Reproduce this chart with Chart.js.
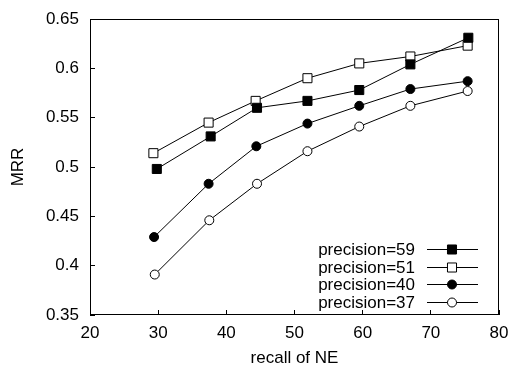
<!DOCTYPE html>
<html>
<head>
<meta charset="utf-8">
<script src="https://cdn.jsdelivr.net/npm/chart.js@4"></script>
<style>
  body { margin: 0; background: #fff; }
  canvas { display: block; }
</style>
</head>
<body>
<canvas id="mrrChart" width="510" height="367"></canvas>
<script>
// series data
const seriesLabels = ['precision=59', 'precision=51', 'precision=40', 'precision=37'];
const recall59 = [29.8, 37.7, 44.5, 51.9, 59.5, 67.0, 75.5];
const mrr59 = [0.498, 0.531, 0.560, 0.567, 0.578, 0.604, 0.631];
const recall51 = [29.3, 37.4, 44.3, 51.9, 59.5, 67.0, 75.4];
const mrr51 = [0.514, 0.545, 0.567, 0.590, 0.605, 0.612, 0.623];
const recall40 = [29.4, 37.4, 44.4, 51.9, 59.5, 67.0, 75.4];
const mrr40 = [0.429, 0.483, 0.521, 0.544, 0.562, 0.579, 0.587];
const recall37 = [29.5, 37.5, 44.5, 51.9, 59.5, 67.0, 75.4];
const mrr37 = [0.391, 0.446, 0.483, 0.516, 0.541, 0.562, 0.577];

const xTickLabels = ['20', '30', '40', '50', '60', '70', '80'];
const yTickLabels = ['0.35', '0.4', '0.45', '0.5', '0.55', '0.6', '0.65'];

const toPoints = (xs, ys) => xs.map((x, i) => ({ x: x, y: ys[i] }));

const FONT = { family: "'Liberation Sans', Arial, sans-serif", size: 17 };

function series(label, xs, ys, style, filled, radius) {
    return {
        label: label,
        data: toPoints(xs, ys),
        showLine: true,
        borderColor: '#000',
        borderWidth: 1,
        pointStyle: style,
        pointRadius: radius,
        pointBorderWidth: 1,
        pointBorderColor: '#000',
        pointBackgroundColor: filled ? '#000' : '#fff',
    };
}

// frame around the plot, gnuplot style
const frame = {
    id: 'frame',
    afterDraw(chart) {
        const { ctx, chartArea: a } = chart;
        ctx.save();
        ctx.strokeStyle = '#000';
        ctx.lineWidth = 1;
        ctx.strokeRect(a.left + 0.5, a.top + 0.5, a.right - a.left - 1, a.bottom - a.top - 1);
        ctx.restore();
    }
};

// key in the lower right corner: text, then a line with the marker on it
const key = {
    id: 'key',
    afterDraw(chart) {
        const { ctx, chartArea: a } = chart;
        ctx.save();
        ctx.font = FONT.size + 'px ' + FONT.family;
        ctx.textAlign = 'right';
        ctx.textBaseline = 'middle';
        chart.data.datasets.forEach((ds, i) => {
            const y = Math.round(a.bottom - 66 + i * 17.5) + 0.5;
            ctx.fillStyle = '#000';
            ctx.fillText(ds.label, a.right - 84, y + 1);
            ctx.strokeStyle = '#000';
            ctx.lineWidth = 1;
            ctx.beginPath();
            ctx.moveTo(a.right - 72, y);
            ctx.lineTo(a.right - 21, y);
            ctx.stroke();
            ctx.fillStyle = ds.pointBackgroundColor;
            Chart.helpers.drawPoint(ctx, {
                pointStyle: ds.pointStyle,
                radius: ds.pointRadius,
                borderWidth: 1,
                rotation: 0
            }, a.right - 47, y);
        });
        ctx.restore();
    }
};

new Chart(document.getElementById('mrrChart').getContext('2d'), {
    type: 'scatter',
    data: {
        datasets: [
            series(seriesLabels[0], recall59, mrr59, 'rect', true, 6.4),
            series(seriesLabels[1], recall51, mrr51, 'rect', false, 6.4),
            series(seriesLabels[2], recall40, mrr40, 'circle', true, 4.5),
            series(seriesLabels[3], recall37, mrr37, 'circle', false, 4.5),
        ],
    },
    options: {
        responsive: false,
        animation: false,
        layout: { padding: { left: 0, top: 19, right: 11, bottom: 0 } },
        plugins: {
            legend: { display: false },
            tooltip: { enabled: false },
        },
        scales: {
            x: {
                type: 'linear',
                min: 20,
                max: 80,
                afterFit: (s) => { s.height = 52; s.paddingLeft = 0; s.paddingRight = 0; },
                border: { display: false },
                grid: { drawOnChartArea: false, drawTicks: true, tickLength: -5, color: '#000' },
                ticks: {
                    stepSize: 10,
                    padding: 13,
                    color: '#000',
                    font: FONT,
                    callback: (v, i) => xTickLabels[i],
                },
                title: {
                    display: true,
                    text: 'recall of NE',
                    color: '#000',
                    font: { family: FONT.family, size: 17, lineHeight: 1 },
                    padding: { top: 0, bottom: 0 },
                },
            },
            y: {
                type: 'linear',
                min: 0.35,
                max: 0.65,
                afterFit: (s) => { s.width = 90; s.paddingTop = 0; s.paddingBottom = 0; },
                border: { display: false },
                grid: { drawOnChartArea: false, drawTicks: true, tickLength: -5, color: '#000' },
                ticks: {
                    stepSize: 0.05,
                    padding: 16,
                    color: '#000',
                    font: FONT,
                    callback: (v, i) => yTickLabels[i],
                },
                title: {
                    display: true,
                    text: 'MRR',
                    color: '#000',
                    font: FONT,
                    padding: { top: 8, bottom: 0 },
                },
            },
        },
    },
    plugins: [frame, key],
});
</script>
</body>
</html>
